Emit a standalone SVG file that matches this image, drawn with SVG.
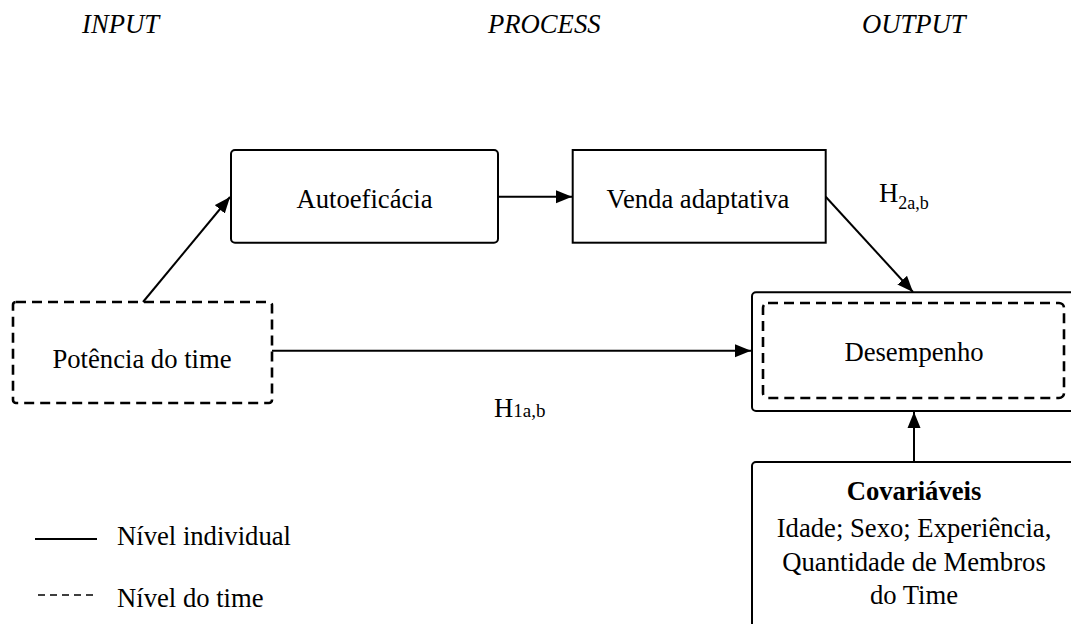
<svg xmlns="http://www.w3.org/2000/svg" width="1071" height="624" viewBox="0 0 1071 624">
<style>
text{font-family:"Liberation Serif","Times New Roman",serif;fill:#000;font-size:26.67px}
.hdr{font-style:italic}
.solid{fill:#fff;stroke:#000;stroke-width:2}
.dash{fill:none;stroke:#000;stroke-width:2.6;stroke-dasharray:10 6}
.conn{stroke:#000;stroke-width:2;fill:none;marker-end:url(#ah)}
.sub{font-size:18px}
</style>
<defs>
<marker id="ah" markerUnits="userSpaceOnUse" markerWidth="17" markerHeight="14" refX="16" refY="7" orient="auto">
<path d="M0,0.5 L16,7 L0,13.5 Z" fill="#000"/>
</marker>
</defs>
<rect width="1071" height="624" fill="#fff"/>
<g id="headers">
<text class="hdr" x="82" y="33">INPUT</text>
<text class="hdr" x="488" y="33">PROCESS</text>
<text class="hdr" x="862" y="33">OUTPUT</text>
</g>
<g id="connectors">
<line class="conn" x1="143" y1="302" x2="230" y2="197"/>
<line class="conn" x1="498" y1="196.7" x2="572" y2="196.7"/>
<line class="conn" x1="825.7" y1="196.7" x2="913" y2="292"/>
<line class="conn" x1="272" y1="350.7" x2="751" y2="350.7"/>
<line class="conn" x1="914" y1="462" x2="914" y2="412"/>
</g>
<g id="autoeficacia">
<rect class="solid" x="231" y="150" width="267" height="92.7" rx="4"/>
<text x="364.5" y="208" text-anchor="middle">Autoeficácia</text>
</g>
<g id="venda">
<rect class="solid" x="572.7" y="150" width="253" height="92.7"/>
<text x="698" y="208" text-anchor="middle">Venda adaptativa</text>
</g>
<g id="potencia">
<rect class="dash" x="13" y="302" width="259" height="101" rx="3"/>
<text x="142" y="368" text-anchor="middle">Potência do time</text>
</g>
<g id="desempenho">
<rect class="solid" x="752" y="292.3" width="330" height="118.7" rx="4"/>
<rect class="dash" x="763" y="303" width="301" height="95" rx="5"/>
<text x="914" y="361" text-anchor="middle">Desempenho</text>
</g>
<g id="covariaveis">
<rect class="solid" x="752" y="462" width="330" height="180" rx="4"/>
<text x="914" y="500" text-anchor="middle" font-weight="bold">Covariáveis</text>
<text x="914" y="536.5" text-anchor="middle">Idade; Sexo; Experiência,</text>
<text x="914" y="570.5" text-anchor="middle">Quantidade de Membros</text>
<text x="914" y="604" text-anchor="middle">do Time</text>
</g>
<g id="labels">
<text x="879" y="202">H<tspan class="sub" dy="6.5">2a,b</tspan></text>
<text x="494" y="416.5">H<tspan font-size="19px">1a,b</tspan></text>
</g>
<g id="legend">
<line x1="35" y1="539" x2="97" y2="539" stroke="#000" stroke-width="2"/>
<text x="117" y="545" font-size="25.7px">Nível individual</text>
<line x1="38" y1="595" x2="97" y2="595" stroke="#000" stroke-width="1.4" stroke-dasharray="7 5"/>
<text x="117" y="606.5" font-size="25.7px">Nível do time</text>
</g>
</svg>
